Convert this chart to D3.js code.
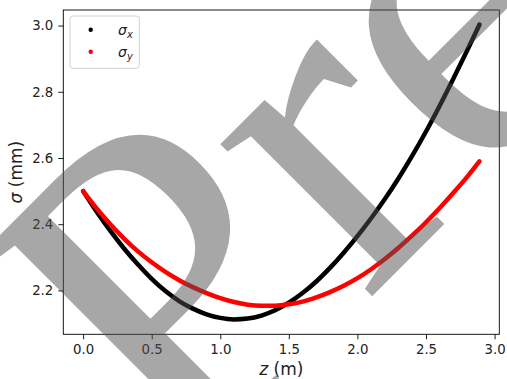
<!DOCTYPE html>
<html><head><meta charset="utf-8">
<script src="https://cdn.jsdelivr.net/npm/d3@7"></script>
<style>body{margin:0;background:#fff}svg{display:block}</style>
</head><body>
<svg id="c" width="507" height="379"></svg>
<script>
const zValues = [0,0.1,0.2,0.3,0.4,0.5,0.6,0.7,0.8,0.9,1.0,1.1,1.2,1.3,1.4,1.5,1.6,1.7,1.8,1.9,2.0,2.1,2.2,2.3,2.4,2.5,2.6,2.7,2.8,2.89];
const sigmaX = [2.500,2.437,2.379,2.326,2.278,2.235,2.198,2.168,2.145,2.128,2.117,2.1125,2.115,2.124,2.140,2.163,2.192,2.227,2.268,2.314,2.364,2.418,2.476,2.539,2.607,2.680,2.758,2.840,2.925,3.003];
const sigmaY = [2.500,2.447,2.399,2.356,2.318,2.285,2.256,2.231,2.210,2.192,2.177,2.165,2.157,2.154,2.154,2.158,2.166,2.179,2.195,2.214,2.237,2.264,2.295,2.329,2.366,2.406,2.449,2.495,2.543,2.590];
const xTicks = [0,0.5,1.0,1.5,2.0,2.5,3.0];
const yTicks = [2.2,2.4,2.6,2.8,3.0];
const seriesLabels = [{sym:"σ",sub:"x"},{sym:"σ",sub:"y"}];
const seriesColors = ["#000000","#ff0000"];
const watermarkText = "Preprint";

const W=507,H=379,L=63.3,R=499.3,T=10,B=334.3;
const x = d3.scaleLinear().domain([-0.1445,3.0345]).range([L,R]);
const y = d3.scaleLinear().domain([2.0675,3.047]).range([B,T]);
const svg = d3.select("#c");
svg.append("rect").attr("width",W).attr("height",H).attr("fill","#fff");

const line = d3.line().x((d,i)=>x(zValues[i])).y(d=>y(d)).curve(d3.curveMonotoneX);
[sigmaX,sigmaY].forEach((s,i)=>{
  svg.append("path").attr("d",line(s)).attr("fill","none")
    .attr("stroke",seriesColors[i]).attr("stroke-width",4.5)
    .attr("stroke-linecap","round").attr("stroke-linejoin","round");
});

const font = "DejaVu Sans";
const xa = svg.append("g").attr("transform",`translate(0,${B})`)
  .call(d3.axisBottom(x).tickValues(xTicks).tickFormat(d3.format(".1f")).tickSize(5).tickSizeOuter(0).tickPadding(5.3));
const ya = svg.append("g").attr("transform",`translate(${L},0)`)
  .call(d3.axisLeft(y).tickValues(yTicks).tickFormat(d3.format(".1f")).tickSize(5).tickSizeOuter(0).tickPadding(5));
[xa,ya].forEach(g=>{
  g.select(".domain").remove();
  g.selectAll(".tick line").attr("stroke","#000").attr("stroke-width",0.9);
  g.selectAll(".tick text").attr("font-family",font).attr("font-size",13.3).attr("fill","#222");
});
svg.append("rect").attr("x",L).attr("y",T).attr("width",R-L).attr("height",B-T)
  .attr("fill","none").attr("stroke","#000").attr("stroke-width",0.9);

// axis labels
const xl = svg.append("text").attr("x",(L+R)/2).attr("y",375).attr("text-anchor","middle")
  .attr("font-family",font).attr("font-size",17).attr("fill","#222");
xl.append("tspan").attr("font-style","italic").text("z");
xl.append("tspan").text(" (m)");
const yl = svg.append("text").attr("transform",`translate(22,${(T+B)/2}) rotate(-90)`).attr("text-anchor","middle")
  .attr("font-family",font).attr("font-size",17).attr("fill","#222");
yl.append("tspan").attr("font-style","italic").text("σ");
yl.append("tspan").text(" (mm)");

// legend
const lg = svg.append("g");
lg.append("rect").attr("x",70).attr("y",16).attr("width",69.3).attr("height",52.3).attr("rx",3)
  .attr("fill","#fff").attr("fill-opacity",0.8).attr("stroke","#cccccc").attr("stroke-width",0.9);
seriesLabels.forEach((s,i)=>{
  const cy = 29.7 + i*22;
  lg.append("circle").attr("cx",90.7).attr("cy",cy).attr("r",2.2).attr("fill",seriesColors[i]);
  const t = lg.append("text").attr("x",118).attr("y",cy+4.8).attr("font-family",font).attr("font-size",14).attr("fill","#222");
  t.append("tspan").attr("font-style","italic").text(s.sym);
  t.append("tspan").attr("font-style","italic").attr("font-size",10).attr("dy",3).text(s.sub);
});

// watermark on top
svg.append("text").attr("transform","translate(181.5,486.8) rotate(-45)")
  .attr("font-family","Liberation Serif").attr("font-size",468)
  .attr("fill","#505050").attr("fill-opacity",0.5).text(watermarkText);
</script>
</body></html>
